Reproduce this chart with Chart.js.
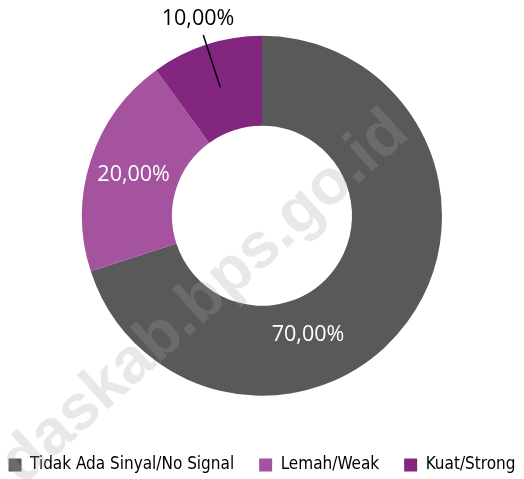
<!DOCTYPE html>
<html>
<head>
<meta charset="utf-8">
<script src="https://cdn.jsdelivr.net/npm/chart.js@4.4.1/dist/chart.umd.min.js"></script>
<style>
  html, body { margin: 0; padding: 0; background: #fff; }
  #wrap { width: 524px; height: 479px; position: relative; }
</style>
</head>
<body>
<div id="wrap"><canvas id="signalChart"></canvas></div>
<script>
const categories = ['Tidak Ada Sinyal/No Signal', 'Lemah/Weak', 'Kuat/Strong'];
const shares = [70, 20, 10];
const sliceColors = ['#595959', '#A5529F', '#83267F'];

// where each value label sits along its slice (fraction of the arc), and whether it goes outside
const labelSpot = [
    { frac: 0.63, inside: true, r: 127 },
    { frac: 0.5, inside: true, r: 135 },
    { frac: 0.5, inside: false }
];

function fmtPct(v) {
    return v.toFixed(2).replace('.', ',') + '%';
}

const valueLabels = {
    id: 'valueLabels',
    afterDatasetsDraw(chart) {
        const ctx = chart.ctx;
        const meta = chart.getDatasetMeta(0);
        ctx.save();
        ctx.font = '21.5px "Open Sans"';
        ctx.textAlign = 'center';
        ctx.textBaseline = 'middle';
        meta.data.forEach(function (arc, i) {
            const p = arc.getProps(['x', 'y', 'startAngle', 'endAngle', 'innerRadius', 'outerRadius']);
            const spot = labelSpot[i];
            const a = p.startAngle + (p.endAngle - p.startAngle) * spot.frac;
            const txt = fmtPct(shares[i]);
            if (spot.inside) {
                ctx.fillStyle = '#ffffff';
                ctx.fillText(txt, p.x + Math.cos(a) * spot.r, p.y + Math.sin(a) * spot.r + 1);
            } else {
                const mid = (p.innerRadius + p.outerRadius) / 2;
                ctx.strokeStyle = '#000000';
                ctx.lineWidth = 1.5;
                ctx.beginPath();
                ctx.moveTo(p.x + Math.cos(a) * mid, p.y + Math.sin(a) * mid);
                ctx.lineTo(p.x + Math.cos(a) * (p.outerRadius + 10), p.y + Math.sin(a) * (p.outerRadius + 10));
                ctx.stroke();
                ctx.fillStyle = '#000000';
                ctx.fillText(txt, p.x + Math.cos(a) * (p.outerRadius + 27), p.y + Math.sin(a) * (p.outerRadius + 27));
            }
        });
        ctx.restore();
    }
};

// faint site watermark across the picture
const watermark = {
    id: 'watermark',
    afterDraw(chart) {
        const ctx = chart.ctx;
        ctx.save();
        ctx.translate(205, 298);
        ctx.rotate(-42 * Math.PI / 180);
        ctx.font = 'bold 64px "Liberation Sans"';
        ctx.textAlign = 'center';
        ctx.textBaseline = 'middle';
        ctx.fillStyle = 'rgba(165,165,165,0.25)';
        ctx.fillText('daskab.bps.go.id', 0, 0);
        ctx.restore();
    }
};

const signalCtx = document.getElementById('signalChart').getContext('2d');
new Chart(signalCtx, {
    type: 'doughnut',
    data: {
        labels: categories,
        datasets: [{
            data: shares,
            backgroundColor: sliceColors,
            borderWidth: 0,
            radius: 180,
            cutout: '50%'
        }]
    },
    options: {
        responsive: true,
        maintainAspectRatio: false,
        animation: false,
        layout: {
            padding: { top: -9.5, bottom: -4.5, left: -20, right: -20 }
        },
        plugins: {
            tooltip: { enabled: false },
            legend: {
                position: 'bottom',
                labels: {
                    boxWidth: 13,
                    boxHeight: 13,
                    padding: 25,
                    color: '#000000',
                    font: { family: '"DejaVu Sans Condensed", sans-serif', size: 17 }
                }
            }
        }
    },
    plugins: [valueLabels, watermark]
});
</script>
</body>
</html>
